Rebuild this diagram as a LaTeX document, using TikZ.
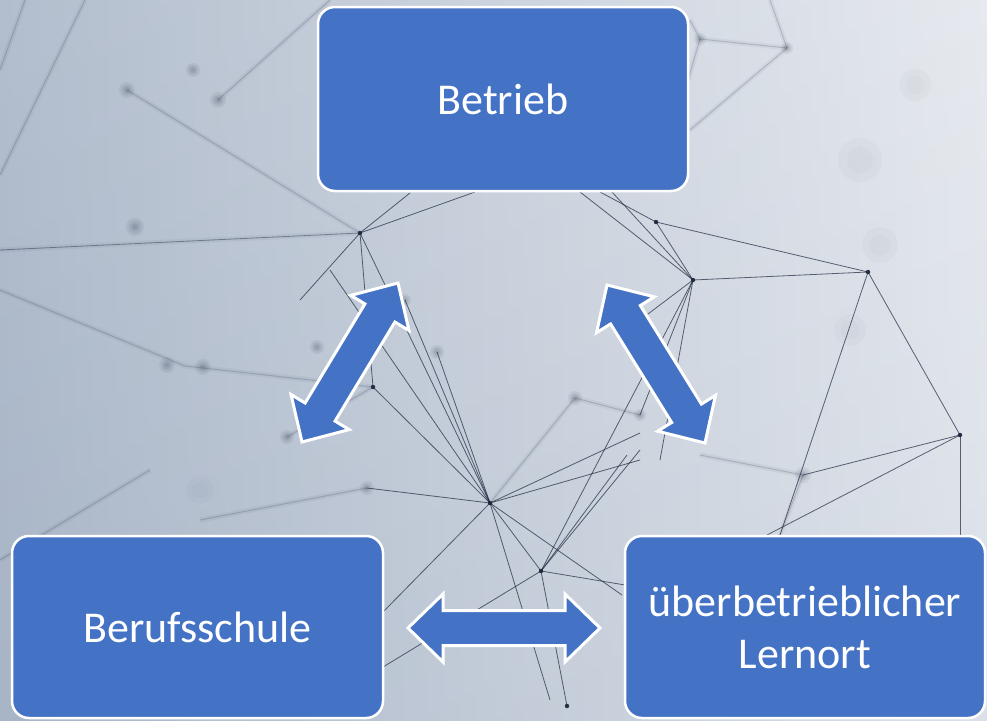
\documentclass[tikz,border=0pt]{standalone}
\usepackage{fontspec}
\setmainfont{Carlito}
\usetikzlibrary{calc}

\definecolor{boxblue}{HTML}{4472C4}
\definecolor{netink}{HTML}{1C283D}
\definecolor{bgleft}{HTML}{A8B5C7}
\definecolor{bgmid}{HTML}{C7CFDA}
\definecolor{bgright}{HTML}{E3E7ED}

% double-headed block arrow between two named tips
\newcommand\blockarrowpath[2]{%
  \coordinate (#1-h) at ($(#1)!35pt!(#2)$);
  \coordinate (#2-h) at ($(#2)!35pt!(#1)$);
  \draw[blockarrow] (#1)
    -- ($(#1-h)!34pt!90:(#1)$) -- ($(#1-h)!17.5pt!90:(#1)$)
    -- ($(#2-h)!17.5pt!-90:(#2)$) -- ($(#2-h)!34pt!-90:(#2)$)
    -- (#2)
    -- ($(#2-h)!34pt!90:(#2)$) -- ($(#2-h)!17.5pt!90:(#2)$)
    -- ($(#1-h)!17.5pt!-90:(#1)$) -- ($(#1-h)!34pt!-90:(#1)$)
    -- cycle;}

\begin{document}
\begin{tikzpicture}[x=1pt,y=-1pt,
  card/.style={draw=white, line width=2.5pt, fill=boxblue, rounded corners=17pt,
    text=white, font=\fontsize{44}{52}\selectfont, align=center, inner sep=0pt},
  blockarrow/.style={draw=white, line width=3pt, fill=boxblue, line join=miter},
  wire/.style={draw=netink, line width=0.8pt, opacity=0.7},
  faint/.style={draw=netink, line width=1pt, opacity=0.18},
  haze/.style={draw=netink, line width=5pt, opacity=0.05},
  knot/.style={fill=netink, opacity=0.95},
  blob/.style={fill=netink, opacity=0.07}]

\useasboundingbox (0,0) rectangle (987,720);

% soft background
\shade[left color=bgleft, middle color=bgmid, right color=bgright] (0,0) rectangle (987,720);
\shade[top color=white, bottom color=bgleft, opacity=0.12] (0,0) rectangle (987,720);

% network points
\coordinate (n1) at (360,233);
\coordinate (n2) at (656,222);
\coordinate (n3) at (693,280);
\coordinate (n4) at (868,272);
\coordinate (n5) at (960,435);
\coordinate (n6) at (373,387);
\coordinate (n7) at (567,706);
\coordinate (hubA) at (490,503);
\coordinate (hubB) at (541,571);
\coordinate (t1) at (700,39);
\coordinate (t2) at (787,48);

% blurred background strands
\foreach \a/\b in {{(85,0)}/{(0,175)}, {(25,0)}/{(0,70)}, {(0,290)}/{(185,366)},
    {(127,90)}/{(360,233)}, {(218,100)}/{(330,0)}, {(185,366)}/{(373,387)},
    {(t1)}/{(690,20)}, {(t1)}/{(688,80)}, {(t2)}/{(770,0)}, {(t2)}/{(690,130)},
    {(t1)}/{(t2)}, {(803,475)}/{(700,455)}, {(803,475)}/{(780,535)},
    {(367,488)}/{(200,520)}, {(0,560)}/{(150,470)},
    {(287,437)}/{(373,387)}, {(575,398)}/{(640,415)}, {(575,398)}/{(hubA)}}
  {\draw[haze] \a -- \b; \draw[faint] \a -- \b;}
\draw[haze] (0,250) -- (n1);
\draw[wire, opacity=0.45] (0,250) -- (n1);

% sharper strands
\foreach \a/\b in {{(n1)}/{(410,193)}, {(n1)}/{(475,192)}, {(n1)}/{(300,300)},
    {(n1)}/{(n6)}, {(n1)}/{(hubA)}, {(n6)}/{(hubA)}, {(330,270)}/{(hubA)},
    {(405,300)}/{(hubA)}, {(437,352)}/{(hubA)},
    {(hubA)}/{(383,612)}, {(hubB)}/{(383,667)}, {(hubA)}/{(hubB)},
    {(hubA)}/{(640,433)}, {(hubA)}/{(640,460)}, {(hubA)}/{(622,595)},
    {(hubA)}/{(367,488)}, {(hubA)}/{(550,700)},
    {(hubB)}/{(640,450)}, {(hubB)}/{(627,455)}, {(hubB)}/{(625,585)},
    {(hubB)}/{(n7)}, {(n3)}/{(n4)}, {(n3)}/{(n2)}, {(n2)}/{(n4)},
    {(n3)}/{(580,192)}, {(n3)}/{(612,192)}, {(n2)}/{(600,192)},
    {(n3)}/{(640,320)}, {(n3)}/{(660,460)}, {(n3)}/{(640,415)},
    {(n3)}/{(hubB)}, {(n4)}/{(n5)}, {(n4)}/{(780,535)}, {(n5)}/{(803,475)},
    {(n5)}/{(767,535)}, {(n5)}/{(960,535)}}
  {\draw[wire] \a -- \b;}

% blurred knots
\foreach \p/\r in {{(127,90)}/8, {(193,70)}/7, {(218,100)}/8, {(135,227)}/9,
    {(167,365)}/8, {(203,367)}/8, {(317,347)}/7, {(287,437)}/7, {(437,352)}/7,
    {(575,398)}/7, {(803,475)}/8, {(367,488)}/7, {(t1)}/6, {(t2)}/6,
    {(405,300)}/6, {(640,415)}/6}
  {\fill[blob] \p circle (\r); \fill[blob] \p circle ({0.7*\r});
   \fill[blob] \p circle ({0.45*\r}); \fill[blob] \p circle ({0.25*\r});}
\foreach \p/\r in {{(860,160)}/22, {(880,245)}/18, {(850,330)}/16,
    {(915,85)}/16, {(200,490)}/14}
  {\fill[netink, opacity=0.025] \p circle (\r);
   \fill[netink, opacity=0.02] \p circle ({0.6*\r});}

% sharp knots
\foreach \p in {n1, n2, n3, n4, n5, n6, n7, hubA, hubB}
  {\fill[knot] (\p) circle (2.2);}

% the three places of learning
\node[card, minimum width=370pt, minimum height=184pt] (betrieb) at (503,99) {Betrieb};
\node[card, minimum width=371pt, minimum height=182pt] (schule) at (197.5,627) {Berufsschule};
\node[card, minimum width=360pt, minimum height=182pt] (lernort) at (805,627) {überbetrieblicher\\Lernort};

% exchange arrows between them
\coordinate (la) at (302,442);
\coordinate (lb) at (398,283);
\coordinate (ra) at (607,285);
\coordinate (rb) at (705,443);
\coordinate (ma) at (408,628);
\coordinate (mb) at (600,628);
\blockarrowpath{la}{lb}
\blockarrowpath{ra}{rb}
\blockarrowpath{ma}{mb}

\end{tikzpicture}
\end{document}
